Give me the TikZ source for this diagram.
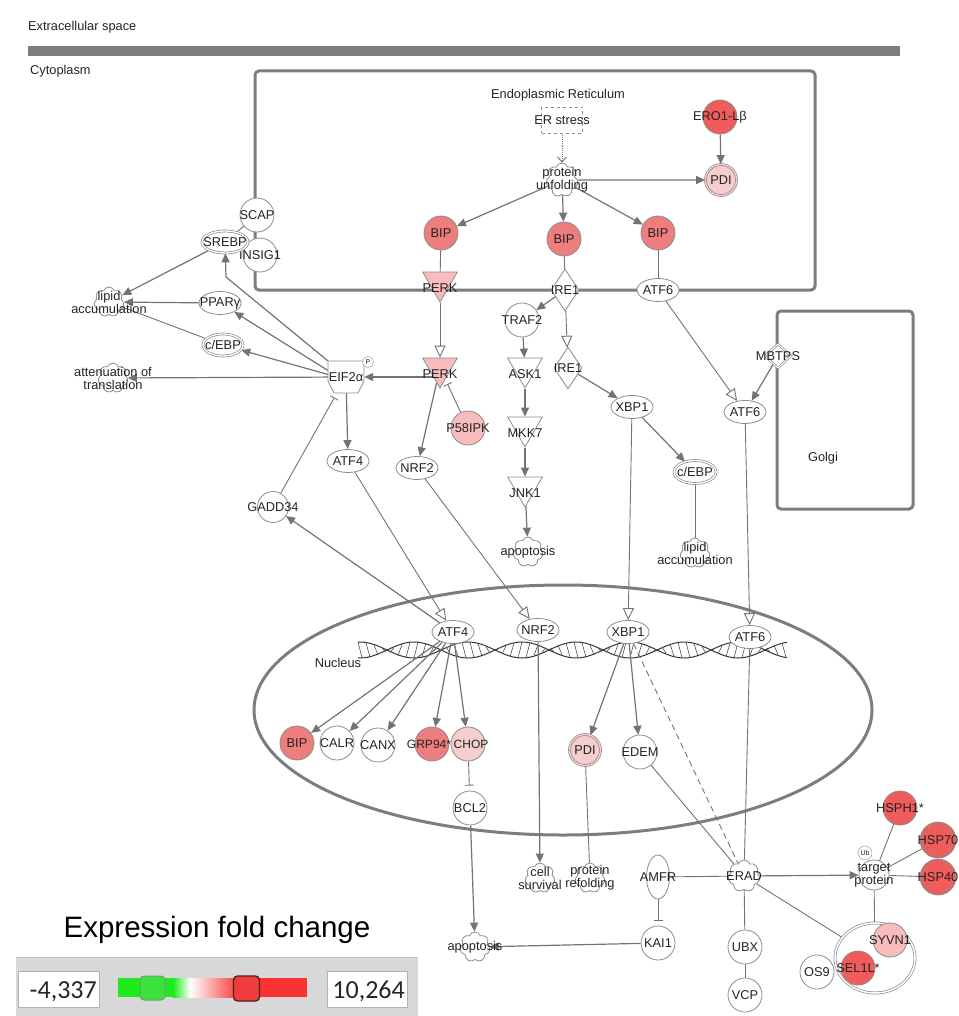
\documentclass[tikz,border=0pt]{standalone}
\usepackage{fontspec}
\setmainfont{Liberation Sans}
\newfontfamily\legnum{Carlito}
\usetikzlibrary{arrows.meta,shapes.geometric,shapes.symbols,calc}
\pgfdeclarelayer{bgl}
\pgfdeclarelayer{edl}
\pgfsetlayers{bgl,edl,main}
\definecolor{lc}{RGB}{115,115,115}
\definecolor{bc}{RGB}{125,125,125}
\definecolor{nb}{RGB}{140,140,140}
\definecolor{tc}{RGB}{35,35,35}
\definecolor{rA}{RGB}{240,92,92}
\definecolor{rB}{RGB}{238,125,125}
\definecolor{pA}{RGB}{248,188,188}
\definecolor{pB}{RGB}{246,205,205}
\definecolor{lgG}{RGB}{30,235,30}
\definecolor{lgR}{RGB}{250,50,50}
\definecolor{panel}{RGB}{216,216,216}
\begin{document}
\begin{tikzpicture}[x=1pt,y=-1pt,
  lbl/.style={font=\fontsize{12.8}{13}\selectfont, text=tc, inner sep=0pt, align=center},
  tx/.style={label={[lbl]center:#1}},
  ktx/.style={label={[lbl,yshift=-6pt]center:#1}},
  gc/.style={circle, draw=nb, fill=#1, minimum size=34pt, inner sep=0pt, line width=0.8pt},
  gc/.default=white,
  dgc/.style={gc=#1, double=#1, double distance=1.3pt, line width=0.7pt},
  el/.style={ellipse, draw=nb, fill=white, minimum width=42pt, minimum height=23pt, inner sep=0pt, line width=0.8pt},
  del/.style={el, double=white, double distance=1.3pt, line width=0.7pt},
  kin/.style={regular polygon, regular polygon sides=3, shape border rotate=180, draw=nb, fill=#1, minimum size=40pt, inner sep=0pt, line width=0.8pt},
  kin/.default=white,
  dia/.style={diamond, draw=nb, fill=white, minimum width=28pt, minimum height=42pt, inner sep=0pt, line width=0.8pt},
  fn/.style={cloud, cloud puffs=7, cloud puff arc=140, aspect=1, draw=nb, fill=white, minimum width=30pt, minimum height=30pt, inner sep=0pt, line width=0.8pt},
  arr/.style={draw=lc, line width=1.2pt, -{Triangle[length=9pt,width=8pt]}},
  oarr/.style={draw=lc, line width=0.9pt, -{Triangle[open,fill=white,length=12pt,width=11pt]}},
  ln/.style={draw=lc, line width=0.9pt},
  inh/.style={draw=lc, line width=0.9pt, -{Bar[width=9pt]}, shorten >=5pt},
  comp/.style={draw=bc, line width=3pt, rounded corners=4pt},
]
\useasboundingbox (0,0) rectangle (958,1016);

% ---------- compartments ----------
\begin{pgfonlayer}{bgl}
\fill[bc] (28,46) rectangle (900,56);
\draw[comp] (255,71) rectangle (815,290);
\draw[comp] (777,311) rectangle (913,509);
\draw[draw=bc, line width=3pt] (563,710) ellipse [x radius=309pt, y radius=125pt];
% DNA helix
\draw[black!80, line width=1pt] plot[domain=358:787, samples=240] (\x, {650+8*sin(3.333*(\x-387))});
\draw[black!80, line width=1pt] plot[domain=358:787, samples=240] (\x, {650-8*sin(3.333*(\x-387))});
\foreach \xx in {360,368,...,785} {
  \pgfmathsetmacro\ya{650+8*sin(3.333*(\xx-387))}
  \pgfmathsetmacro\yb{650-8*sin(3.333*(\xx-387))}
  \draw[black!70, line width=0.6pt] (\xx-2,\ya) -- (\xx+2,\yb);
}
\end{pgfonlayer}

\node[lbl, anchor=west] (ecs) at (28,27) {Extracellular space};
\node[lbl, anchor=west] (cyt) at (30,71) {Cytoplasm};
\node[lbl] (ert) at (558,95) {Endoplasmic Reticulum};
\node[lbl] (golt) at (823,458) {Golgi};
\node[lbl] (nuct) at (338,663) {Nucleus};

% ---------- ER ----------
\node[draw=nb, dashed, fill=white, minimum width=41pt, minimum height=26pt, inner sep=0pt, tx={ER stress}] (ers) at (562,120) {};
\node[fn, minimum width=32pt, minimum height=34pt, tx={protein\\unfolding}] (pu) at (562,180) {};
\node[gc=rA, tx={ERO1-Lβ}] (ero) at (720,117) {};
\node[dgc=pB, minimum size=31pt, tx=PDI] (pdi1) at (721,180) {};
\node[gc=rB, tx=BIP] (bip1) at (441,233) {};
\node[gc=rB, tx=BIP] (bip2) at (564,239) {};
\node[gc=rB, tx=BIP] (bip3) at (658,233) {};
\node[kin=pA, ktx=PERK] (perk1) at (440,282) {};
\node[dia, tx=IRE1] (ire1a) at (565,290) {};
\node[el, tx=ATF6] (atf6a) at (658,290) {};

% ---------- left ----------
\node[gc, tx=SCAP] (scap) at (257,215) {};
\node[gc, tx=INSIG1] (insig) at (260,255) {};
\node[del, minimum width=46pt, minimum height=22pt, tx=SREBP] (srebp) at (225,242) {};
\node[fn, tx={lipid\\accumulation}] (lipid1) at (109,302) {};
\node[el, tx={PPARγ}] (ppar) at (220,303) {};
\node[del, minimum width=40pt, minimum height=22pt, tx={c/EBP}] (cebp1) at (223,345) {};
\node[fn, tx={attenuation of\\translation}] (att) at (113,378) {};
\draw[draw=nb, fill=white, line width=0.8pt] (328,361) -- (364,361) -- (364,381) -- (358,393) -- (334,393) -- (328,381) -- cycle;
\node[minimum width=36pt, minimum height=32pt, inner sep=0pt, tx={EIF2α}] (eif) at (346,377) {};
\node[circle, draw=nb, fill=white, minimum size=11pt, inner sep=0pt, font=\fontsize{7}{7}\selectfont, text=tc] (eifp) at (368,362) {P};
\node[kin=pA, ktx=PERK] (perk2) at (440,368) {};
\node[gc=pA, tx=P58IPK] (p58) at (468,428) {};
\node[el, tx=NRF2] (nrf2a) at (417,468) {};
\node[el, tx=ATF4] (atf4a) at (348,461) {};
\node[gc, minimum size=31pt, tx=GADD34] (gadd) at (273,507) {};

% ---------- IRE1 branch ----------
\node[gc, tx=TRAF2] (traf2) at (522,320) {};
\node[kin, ktx=ASK1] (ask1) at (525,368) {};
\node[kin, ktx=MKK7] (mkk7) at (525,427) {};
\node[kin, ktx=JNK1] (jnk1) at (525,487) {};
\node[fn, tx=apoptosis] (apop1) at (528,552) {};
\node[dia, tx=IRE1] (ire1b) at (568,368) {};
\node[el, tx=XBP1] (xbp1a) at (632,407) {};
\node[del, tx={c/EBP}] (cebp2) at (695,472) {};
\node[fn, tx={lipid\\accumulation}] (lipid2) at (695,553) {};
\node[el, tx=ATF6] (atf6b) at (745,412) {};
\node[diamond, draw=nb, fill=white, double=white, double distance=1pt, line width=0.7pt, minimum width=26pt, minimum height=24pt, inner sep=0pt, tx=MBTPS] (mbtps) at (778,356) {};

% ---------- nucleus ----------
\node[el, tx=ATF4] (atf4n) at (453,632) {};
\node[el, tx=NRF2] (nrf2n) at (538,630) {};
\node[el, tx=XBP1] (xbp1n) at (628,632) {};
\node[el, tx=ATF6] (atf6n) at (750,637) {};
\node[gc=rB, tx=BIP] (bipn) at (297,743) {};
\node[gc, tx=CALR] (calr) at (337,743) {};
\node[gc, tx=CANX] (canx) at (378,745) {};
\node[gc=rB, label={[lbl,xshift=-3pt,font=\fontsize{12}{12}\selectfont]center:GRP94*}] (grp94) at (432,744) {};
\node[gc=pB, label={[lbl,xshift=3pt,font=\fontsize{12}{12}\selectfont]center:CHOP}] (chop) at (468,744) {};
\node[gc, tx=BCL2] (bcl2) at (470,808) {};
\node[dgc=pB, minimum size=31pt, tx=PDI] (pdin) at (585,750) {};
\node[gc, tx=EDEM] (edem) at (640,752) {};

% ---------- bottom ----------
\node[fn, tx={cell\\survival}] (cellsurv) at (540,878) {};
\node[fn, tx={protein\\refolding}] (protref) at (590,878) {};
\node[fn, tx=apoptosis] (apop2) at (475,947) {};
\node[gc, tx=KAI1] (kai1) at (658,943) {};
\node[ellipse, draw=nb, fill=white, minimum width=23pt, minimum height=44pt, inner sep=0pt, line width=0.8pt, tx=AMFR] (amfr) at (658,877) {};
\node[fn, minimum width=32pt, minimum height=32pt, tx=ERAD] (erad) at (744,876) {};
\node[gc, minimum size=30pt, tx={target\\protein}] (target) at (874,875) {};
\node[circle, draw=nb, fill=white, minimum size=14pt, inner sep=0pt, font=\fontsize{7}{7}\selectfont, text=tc] (ub) at (865,853) {Ub};
\node[gc, tx=UBX] (ubx) at (745,947) {};
\node[gc, tx=VCP] (vcp) at (745,995) {};
\node[gc=rA, tx={HSPH1*}] (hsph1) at (900,808) {};
\node[dgc=rA, tx=HSP70] (hsp70) at (938,840) {};
\node[dgc=rA, tx=HSP40] (hsp40) at (938,877) {};
\node[ellipse, draw=nb, fill=white, double=white, double distance=1.5pt, line width=0.7pt, minimum width=80pt, minimum height=70pt, inner sep=0pt] (cplx) at (875,958) {};
\node[gc=pA, tx=SYVN1] (syvn1) at (890,940) {};
\node[gc=rA, tx={SEL1L*}] (sel1l) at (858,968) {};
\node[gc, tx=OS9] (os9) at (817,972) {};

% ---------- edges ----------
\begin{pgfonlayer}{edl}
\draw[ln, densely dotted, -{Straight Barb[length=5pt,width=9pt]}] (ers) -- (pu);
\draw[arr] (pu) -- (pdi1);
\draw[arr] (ero) -- (pdi1);
\draw[arr] (pu) -- (bip1);
\draw[arr] (pu) -- (bip2);
\draw[arr] (pu) -- (bip3);
\draw[ln] (bip1) -- (perk1);
\draw[ln] (bip2) -- (ire1a);
\draw[ln] (bip3) -- (atf6a);
\draw[ln] (scap) -- (srebp);
\draw[oarr] (perk1) -- (perk2);
\draw[arr] (perk2 |- eif) -- (eif);
\draw[inh] (p58) -- (perk2);
\draw[arr] (perk2) -- (nrf2a);
\draw[arr] (ire1a) -- (traf2);
\draw[oarr] (ire1a) -- (ire1b);
\draw[arr] (ire1b) -- (xbp1a);
\draw[arr] (traf2) -- (ask1);
\draw[arr] (ask1) -- (mkk7);
\draw[arr] (mkk7) -- (jnk1);
\draw[arr] (jnk1) -- (apop1);
\draw[arr] (xbp1a) -- (cebp2);
\draw[ln] (cebp2) -- (lipid2);
\draw[oarr] (atf6a) -- (atf6b);
\draw[arr] (mbtps) -- (atf6b);
\draw[arr] (eif.north west) -- (226,277) -- (srebp);
\draw[arr] (eif.160) -- (ppar);
\draw[arr] (eif.172) -- (cebp1);
\draw[arr] (eif) -- (att);
\draw[arr] (srebp) -- (lipid1);
\draw[arr] (ppar) -- (lipid1);
\draw[ln] (cebp1) -- (lipid1);
\draw[arr] (eif) -- (atf4a);
\draw[inh] (gadd) -- (eif);
\draw[oarr] (atf4a) -- (atf4n);
\draw[oarr] (nrf2a) -- (nrf2n);
\draw[oarr] (xbp1a) -- (xbp1n);
\draw[oarr] (atf6b) -- (atf6n);
\draw[arr] (atf4n) -- (gadd);
\draw[arr] (atf4n) -- (bipn);
\draw[arr] (atf4n) -- (calr);
\draw[arr] (atf4n) -- (canx);
\draw[arr] (atf4n) -- (grp94);
\draw[arr] (atf4n) -- (chop);
\draw[inh] (chop) -- (bcl2);
\draw[arr] (bcl2) -- (apop2);
\draw[arr] (nrf2n) -- (cellsurv);
\draw[ln] (pdin) -- (protref);
\draw[arr] (xbp1n) -- (pdin);
\draw[arr] (xbp1n) -- (edem);
\draw[ln, dash pattern=on 6pt off 4pt] (xbp1n) -- (erad);
\draw[ln] (edem) -- (erad);
\draw[ln] (atf6n) -- (erad);
\draw[ln] (erad) -- (amfr);
\draw[inh] (amfr) -- (kai1);
\draw[arr] (kai1) -- (apop2);
\draw[arr] (erad) -- (target);
\draw[ln] (erad) -- (ubx);
\draw[ln] (ubx) -- (vcp);
\draw[ln] (erad) -- (cplx);
\draw[ln] (target) -- (hsph1);
\draw[ln] (target) -- (hsp70);
\draw[ln] (target) -- (hsp40);
\draw[ln] (target) -- (cplx);
\end{pgfonlayer}

% ---------- legend ----------
\node[anchor=base, font=\fontsize{29.5}{30}\selectfont, text=black, inner sep=0pt] (legt) at (217,937) {Expression fold change};
\fill[panel] (16,957) rectangle (418,1016);
\draw[black!22, line width=1pt] (16,957) -- (418,957);
\node[draw=black!30, fill=white, minimum width=81pt, minimum height=36pt, inner sep=0pt] (lo) at (58.5,989) {};
\node[anchor=base east, font=\legnum\fontsize{26}{26}\selectfont, text=black!85, inner sep=0pt] (lot) at (97,998) {-4,337};
\node[draw=black!30, fill=white, minimum width=80pt, minimum height=36pt, inner sep=0pt] (hi) at (367,989) {};
\node[anchor=base east, font=\legnum\fontsize{26}{26}\selectfont, text=black!85, inner sep=0pt] (hit) at (405,998) {10,264};
\fill[lgG] (118,978) rectangle (173,997);
\shade[left color=lgG, right color=white] (173,978) rectangle (190,997);
\shade[left color=white, right color=lgR] (190,978) rectangle (240,997);
\fill[lgR] (240,978) rectangle (307,997);
\node[draw={rgb,255:red,110;green,160;blue,110}, fill={rgb,255:red,60;green,225;blue,60}, line width=1pt, rounded corners=4pt, minimum width=25pt, minimum height=24pt, inner sep=0pt] (kg) at (152.5,988) {};
\node[draw={rgb,255:red,80;green,30;blue,30}, fill={rgb,255:red,240;green,60;blue,60}, line width=1.3pt, rounded corners=4pt, minimum width=26pt, minimum height=25pt, inner sep=0pt] (kr) at (246.5,988.5) {};
\end{tikzpicture}
\end{document}
